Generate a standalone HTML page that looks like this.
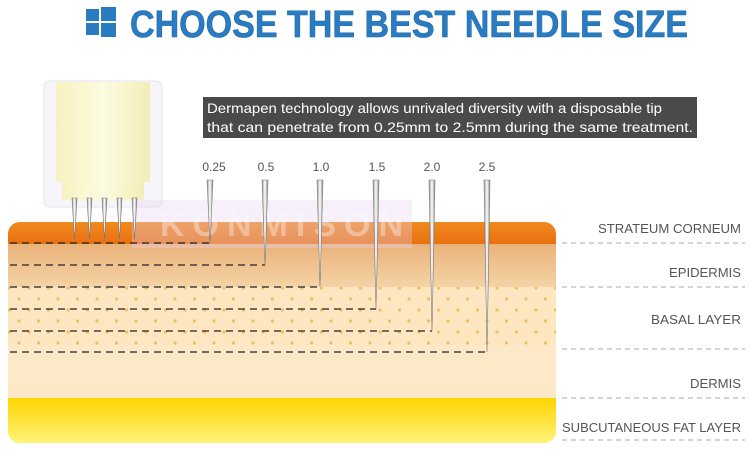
<!DOCTYPE html>
<html><head><meta charset="utf-8"><style>
body{margin:0;background:#fff;width:750px;height:453px;overflow:hidden;font-family:"Liberation Sans",sans-serif}
</style></head><body>
<svg width="750" height="453" xmlns="http://www.w3.org/2000/svg">
<defs>
<linearGradient id="cap" x1="0" x2="1"><stop offset="0" stop-color="#f7f2c0"/><stop offset="0.5" stop-color="#fdfbe0"/><stop offset="1" stop-color="#f3edb8"/></linearGradient>
<linearGradient id="or" x1="0" y1="0" x2="0" y2="1"><stop offset="0" stop-color="#f08a20"/><stop offset="1" stop-color="#e87010"/></linearGradient>
<linearGradient id="ep" x1="0" y1="0" x2="0" y2="1"><stop offset="0" stop-color="#eab27a"/><stop offset="1" stop-color="#f5d3a6"/></linearGradient>
<linearGradient id="fat" x1="0" y1="0" x2="0" y2="1"><stop offset="0" stop-color="#ffd400"/><stop offset="1" stop-color="#fff37a"/></linearGradient>
<linearGradient id="nd" x1="0" x2="1"><stop offset="0" stop-color="#999"/><stop offset="0.5" stop-color="#fff"/><stop offset="1" stop-color="#888"/></linearGradient>
<pattern id="dots" width="19.5" height="22" patternUnits="userSpaceOnUse" x="12" y="296"><circle cx="7" cy="3" r="1.6" fill="#f0c060"/><circle cx="17" cy="14" r="1.6" fill="#f0c060"/></pattern>
<clipPath id="sk"><rect x="8" y="222" width="548" height="221" rx="12"/></clipPath>
</defs>
<g fill="#2a7cc2">
<rect x="86" y="9" width="13" height="12"/><rect x="101" y="7" width="15" height="14"/><rect x="86" y="23" width="13" height="12"/><rect x="101" y="23" width="15" height="14"/>
</g>
<text x="130" y="37" font-family="Liberation Sans" font-weight="bold" font-size="38" fill="#2a7cc2" textLength="558" lengthAdjust="spacingAndGlyphs" stroke="#1f65a5" stroke-width="0.6">CHOOSE THE BEST NEEDLE SIZE</text>
<rect x="44" y="81" width="118" height="126" rx="6" fill="#f6f6fa" stroke="#e4e4ee"/>
<rect x="56" y="82" width="94" height="100" fill="url(#cap)"/>
<rect x="62" y="182" width="82" height="18" fill="url(#cap)"/>
<rect x="203" y="97" width="494" height="41" fill="#4a4a4a"/>
<text x="207" y="113" font-size="14" fill="#fff" textLength="455" lengthAdjust="spacingAndGlyphs">Dermapen technology allows unrivaled diversity with a disposable tip</text>
<text x="207" y="132" font-size="14" fill="#fff" textLength="486" lengthAdjust="spacingAndGlyphs">that can penetrate from 0.25mm to 2.5mm during the same treatment.</text>
<g clip-path="url(#sk)">
<rect x="8" y="222" width="548" height="221" fill="#fde8c8"/>
<rect x="8" y="222" width="548" height="22" fill="url(#or)"/>
<rect x="8" y="244" width="548" height="43" fill="url(#ep)"/>
<rect x="8" y="287" width="548" height="58" fill="#fde6c0"/>
<rect x="8" y="287" width="548" height="58" fill="url(#dots)"/>
<rect x="8" y="398" width="548" height="45" fill="url(#fat)"/>
</g>
<rect x="132" y="200" width="280" height="48" fill="#e8d0f0" opacity="0.35"/>
<text x="160" y="236" font-size="34" font-weight="bold" fill="#fff" opacity="0.35" letter-spacing="8">KONMISON</text>
<g stroke="#222" stroke-width="1.2" stroke-dasharray="7,5" fill="none">
<line x1="10" y1="243" x2="210" y2="243"/>
<line x1="10" y1="265" x2="265" y2="265"/>
<line x1="10" y1="287" x2="320" y2="287"/>
<line x1="10" y1="309" x2="376" y2="309"/>
<line x1="10" y1="331" x2="432" y2="331"/>
<line x1="10" y1="352" x2="487" y2="352"/>
</g>
<g fill="url(#nd)" stroke="#777" stroke-width="0.6">
<polygon points="72,198 77,198 74.5,240"/><polygon points="87,198 92,198 89.5,240"/><polygon points="102,198 107,198 104.5,240"/><polygon points="117,198 122,198 119.5,240"/><polygon points="132,198 137,198 134.5,240"/>
<polygon points="207,180 213,180 210,243"/>
<polygon points="262,180 268,180 265,265"/>
<polygon points="317,180 323,180 320,287"/>
<polygon points="373,180 379,180 376,309"/>
<polygon points="429,180 435,180 432,331"/>
<polygon points="484,180 490,180 487,352"/>
</g>
<g font-size="12" fill="#555" text-anchor="middle">
<text x="214" y="171">0.25</text><text x="266" y="171">0.5</text><text x="321" y="171">1.0</text><text x="377" y="171">1.5</text><text x="432" y="171">2.0</text><text x="487" y="171">2.5</text>
</g>
<g stroke="#aaa" stroke-dasharray="5,4" stroke-width="1">
<line x1="562" y1="243" x2="745" y2="243"/><line x1="562" y1="287" x2="745" y2="287"/><line x1="562" y1="349" x2="745" y2="349"/><line x1="562" y1="398" x2="745" y2="398"/><line x1="562" y1="440" x2="745" y2="440"/>
</g>
<g font-size="13" fill="#555">
<text x="598" y="233" textLength="143" lengthAdjust="spacingAndGlyphs">STRATEUM CORNEUM</text>
<text x="669" y="277" textLength="72" lengthAdjust="spacingAndGlyphs">EPIDERMIS</text>
<text x="651" y="324" textLength="90" lengthAdjust="spacingAndGlyphs">BASAL LAYER</text>
<text x="690" y="388" textLength="51" lengthAdjust="spacingAndGlyphs">DERMIS</text>
<text x="562" y="432" textLength="179" lengthAdjust="spacingAndGlyphs">SUBCUTANEOUS FAT LAYER</text>
</g>
</svg>
</body></html>
